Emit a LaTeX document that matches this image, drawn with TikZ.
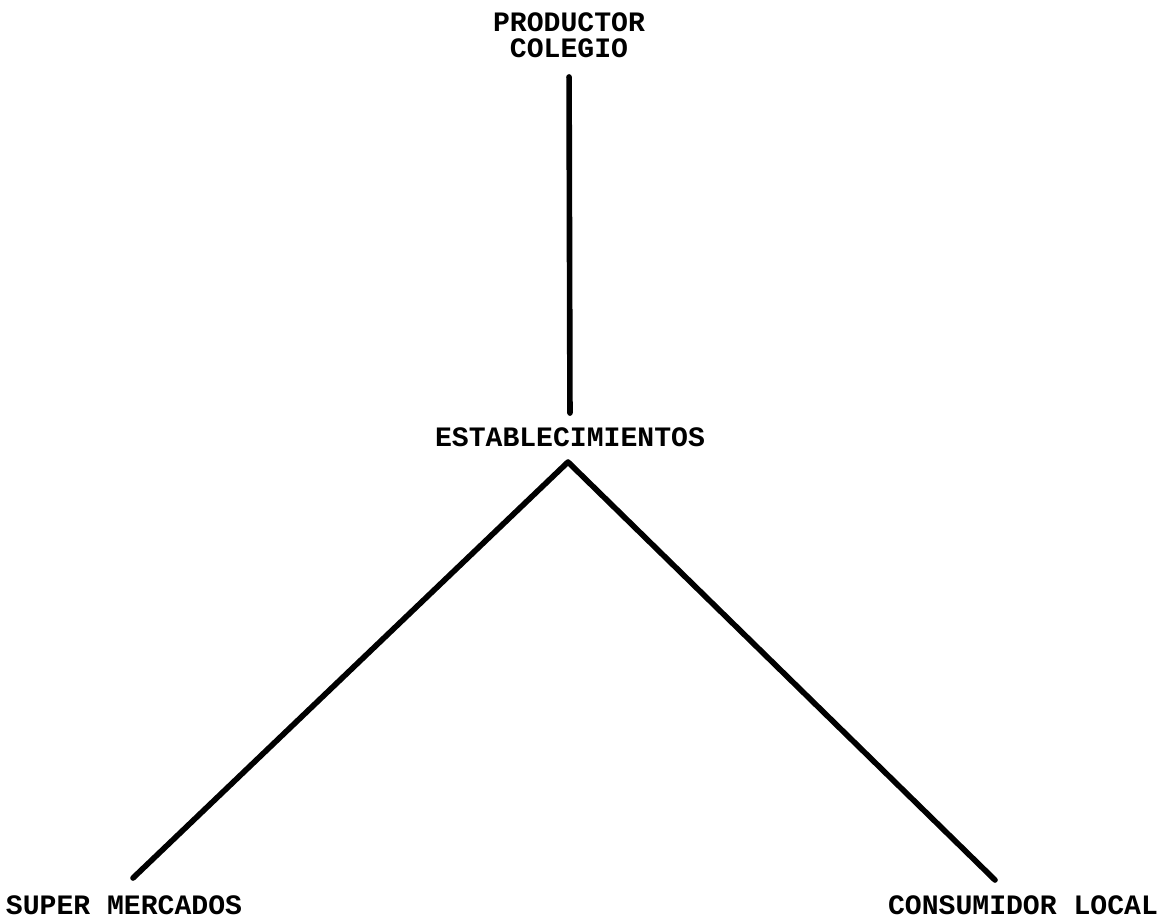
\documentclass[tikz,border=0pt]{standalone}
\usepackage{fontspec}
\setmonofont{Liberation Mono}
\usepackage{tikz}
\usetikzlibrary{positioning}

\begin{document}
\begin{tikzpicture}[x=0.02cm, y=-0.02cm,
  lbl/.style={font=\ttfamily\bfseries\fontsize{16}{14.5}\selectfont, inner sep=0pt, align=center},
  ln/.style={line width=3.2pt, line cap=round, line join=round}]
\useasboundingbox (0,0) rectangle (1166,920);
\node[lbl] (prod) at (569,35) {PRODUCTOR\\COLEGIO};
\node[lbl] (estab) at (570,437) {ESTABLECIMIENTOS};
\node[lbl] (super) at (124,905) {SUPER MERCADOS};
\node[lbl] (consum) at (1023,905) {CONSUMIDOR LOCAL};
% free ends of the branches
\path (estab) ++(-2,25) coordinate (apex);
\path (super) ++(9,-27) coordinate (supertip);
\path (consum) ++(-28,-25) coordinate (consumtip);
\draw[ln, shorten <=11pt, shorten >=8pt] (prod.south) -- (estab.north);
\draw[ln] (supertip) -- (apex) -- (consumtip);
\end{tikzpicture}
\end{document}
